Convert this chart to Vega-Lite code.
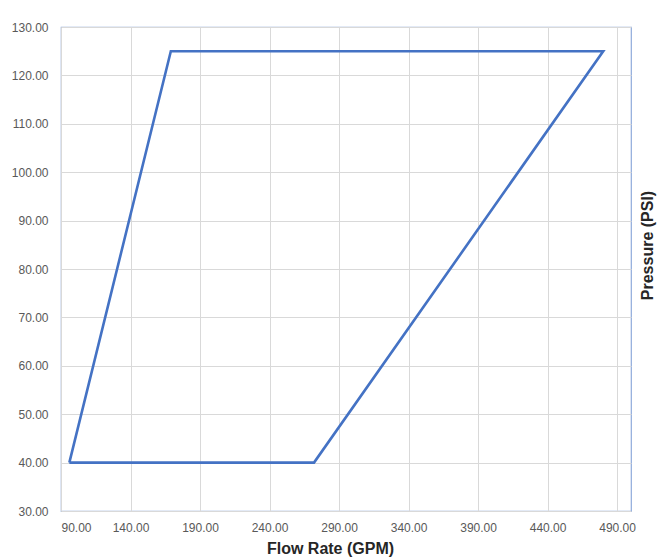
{
  "$schema": "https://vega.github.io/schema/vega-lite/v6.json",
  "width": 570,
  "height": 484,
  "autosize": {"type": "none"},
  "padding": {"top": 27, "left": 61, "right": 26, "bottom": 49},
  "background": "white",
  "title": {
    "text": "Rated Flow Range of the Pump",
    "anchor": "middle",
    "font": "Liberation Sans",
    "fontSize": 18,
    "fontWeight": "bold",
    "color": "#262626",
    "baseline": "alphabetic",
    "offset": 26
  },
  "config": {
    "view": {"stroke": "#8eaadb", "strokeWidth": 1.2},
    "axis": {
      "labelFont": "Liberation Sans",
      "labelFontSize": 12,
      "labelColor": "#595959",
      "titleFont": "Liberation Sans",
      "titleFontSize": 16,
      "titleFontWeight": "bold",
      "titleColor": "#262626",
      "gridColor": "#d9d9d9",
      "gridWidth": 1,
      "domain": false,
      "ticks": false
    }
  },
  "data": {
    "values": [
      {"order": 1, "flow": 96, "pressure": 40},
      {"order": 2, "flow": 169, "pressure": 125},
      {"order": 3, "flow": 480, "pressure": 125},
      {"order": 4, "flow": 272, "pressure": 40},
      {"order": 5, "flow": 96, "pressure": 40}
    ]
  },
  "layer": [
    {
      "mark": {"type": "line", "color": "#4472c4", "strokeWidth": 2.6, "strokeJoin": "miter"},
      "encoding": {
        "x": {
          "field": "flow", "type": "quantitative",
          "scale": {"domain": [90, 500], "nice": false, "zero": false},
          "axis": {
            "title": "Flow Rate (GPM)",
            "values": [90, 140, 190, 240, 290, 340, 390, 440, 490],
            "format": ".2f",
            "labelPadding": 11,
            "titlePadding": 7,
            "titleX": 269
          }
        },
        "y": {
          "field": "pressure", "type": "quantitative",
          "scale": {"domain": [30, 130], "nice": false, "zero": false},
          "axis": {
            "orient": "left",
            "title": null,
            "values": [30, 40, 50, 60, 70, 80, 90, 100, 110, 120, 130],
            "format": ".2f",
            "labelPadding": 13
          }
        },
        "order": {"field": "order", "type": "quantitative"}
      }
    },
    {
      "mark": {"type": "point", "opacity": 0},
      "encoding": {
        "x": {"field": "flow", "type": "quantitative"},
        "y": {
          "field": "pressure", "type": "quantitative",
          "axis": {
            "orient": "right",
            "title": "Pressure (PSI)",
            "titleAngle": 270,
            "labels": false,
            "grid": false,
            "titlePadding": 24,
            "titleY": 218
          }
        }
      }
    }
  ],
  "resolve": {"scale": {"y": "shared"}, "axis": {"y": "independent"}}
}
